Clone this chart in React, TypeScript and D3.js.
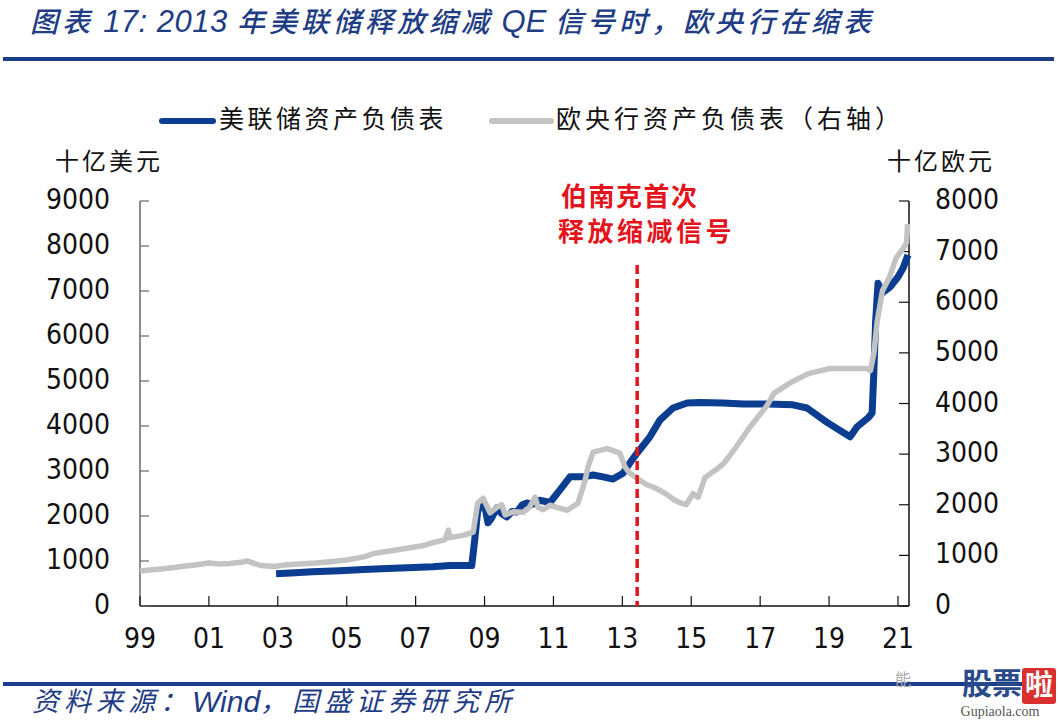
import React from "react";
import * as d3 from "d3";

const fedYear = [2002.95, 2003.5, 2004.0, 2004.8, 2005.5, 2006.0, 2006.75, 2007.5, 2008.0, 2008.63, 2008.72, 2008.8, 2008.9, 2009.0, 2009.1, 2009.2, 2009.36, 2009.5, 2009.65, 2009.8, 2009.94, 2010.1, 2010.23, 2010.4, 2010.6, 2010.9, 2011.19, 2011.48, 2011.86, 2012.15, 2012.44, 2012.73, 2013.02, 2013.22, 2013.43, 2013.8, 2014.09, 2014.47, 2014.88, 2015.26, 2015.92, 2016.5, 2017.2, 2017.95, 2018.36, 2018.94, 2019.61, 2019.81, 2020.13, 2020.2, 2020.25, 2020.3, 2020.35, 2020.42, 2020.55, 2020.77, 2021.0, 2021.15, 2021.29];
const fedValue = [715, 740, 760, 785, 810, 830, 850, 870, 900, 900, 1500, 2100, 2290, 2250, 1850, 1950, 2180, 2050, 1980, 2100, 2090, 2250, 2290, 2260, 2350, 2300, 2580, 2870, 2870, 2910, 2870, 2820, 2950, 3180, 3400, 3760, 4130, 4400, 4510, 4520, 4510, 4490, 4490, 4470, 4400, 4080, 3760, 3980, 4180, 4240, 4290, 5200, 6300, 7170, 6960, 7090, 7310, 7510, 7800];

const ecbYear = [1999.0, 1999.3, 1999.6, 2000.0, 2000.3, 2000.6, 2001.0, 2001.3, 2001.6, 2002.0, 2002.1, 2002.5, 2002.9, 2003.2, 2003.6, 2004.1, 2004.6, 2005.0, 2005.5, 2005.8, 2006.3, 2006.75, 2007.2, 2007.5, 2007.85, 2007.95, 2008.0, 2008.4, 2008.67, 2008.8, 2008.96, 2009.16, 2009.36, 2009.5, 2009.6, 2009.83, 2010.12, 2010.3, 2010.47, 2010.55, 2010.7, 2010.9, 2011.1, 2011.4, 2011.71, 2011.92, 2012.0, 2012.15, 2012.56, 2012.93, 2013.08, 2013.22, 2013.51, 2013.7, 2013.89, 2014.1, 2014.3, 2014.5, 2014.67, 2014.85, 2015.05, 2015.2, 2015.4, 2015.7, 2015.95, 2016.3, 2016.7, 2017.2, 2017.4, 2017.9, 2018.4, 2019.0, 2019.5, 2020.1, 2020.2, 2020.3, 2020.4, 2020.55, 2020.75, 2020.95, 2021.15, 2021.25, 2021.28];
const ecbValue = [690, 710, 730, 760, 790, 810, 850, 830, 840, 870, 890, 800, 780, 810, 830, 850, 880, 910, 970, 1040, 1090, 1140, 1190, 1250, 1310, 1500, 1350, 1400, 1460, 2030, 2130, 1840, 1950, 2000, 1800, 1860, 1850, 1950, 2150, 1950, 1900, 1990, 1950, 1890, 2030, 2480, 2740, 3040, 3110, 3020, 2740, 2620, 2480, 2400, 2350, 2280, 2200, 2100, 2040, 2000, 2220, 2150, 2540, 2680, 2820, 3140, 3530, 3960, 4200, 4420, 4590, 4690, 4690, 4690, 4650, 4990, 5640, 6230, 6490, 6880, 7060, 7180, 7550];

const xTickYears = [1999, 2001, 2003, 2005, 2007, 2009, 2011, 2013, 2015, 2017, 2019, 2021];
const xTickLabels = ["99", "01", "03", "05", "07", "09", "11", "13", "15", "17", "19", "21"];
const leftTicks = [0, 1000, 2000, 3000, 4000, 5000, 6000, 7000, 8000, 9000];
const rightTicks = [0, 1000, 2000, 3000, 4000, 5000, 6000, 7000, 8000];
const signalYear = 2013.43;

const BLUE = "#0b3d91";
const GRAY = "#c3c3c3";
const TITLE_BLUE = "#1f3d85";
const RED = "#e3141b";
const NUM_FONT = "'DejaVu Sans Condensed', 'Liberation Sans', sans-serif";
const CJK_FONT = "'Noto Sans CJK SC', sans-serif";

export default function App() {
  const left = 140, right = 909, top = 201, bottom = 606;
  const x = d3.scaleLinear().domain([1999, 2021.32]).range([left, right]);
  const yL = d3.scaleLinear().domain([0, 9000]).range([bottom, top]);
  const yR = d3.scaleLinear().domain([0, 8000]).range([bottom, top]);

  const fedLine = d3.line<number>().x((_, i) => x(fedYear[i])).y((v) => yL(v));
  const ecbLine = d3.line<number>().x((_, i) => x(ecbYear[i])).y((v) => yR(v));

  return (
    <svg width={1058} height={725} style={{ position: "absolute", left: 0, top: 0, background: "#fff" }}>
      <rect x={0} y={0} width={1058} height={725} fill="#fff" />
      {/* Title */}
      <text x={30} y={24} fontFamily={CJK_FONT} fontSize={28} fontWeight={500} fontStyle="italic" fill={TITLE_BLUE} dominantBaseline="middle">
        <tspan letterSpacing={4}>图表</tspan>
        <tspan fontFamily="'Liberation Sans', sans-serif" fontSize={31} letterSpacing={0.5}> 17:  2013 </tspan>
        <tspan letterSpacing={4}>年美联储释放缩减</tspan>
        <tspan fontFamily="'Liberation Sans', sans-serif" fontSize={31}> QE </tspan>
        <tspan letterSpacing={4}>信号时，欧央行在缩表</tspan>
      </text>
      <rect x={3} y={57} width={1051} height={4} fill="#1a3f8a" />

      {/* Legend */}
      <line x1={162} x2={213} y1={121} y2={121} stroke={BLUE} strokeWidth={6} strokeLinecap="round" />
      <text x={219} y={121} fontFamily={CJK_FONT} fontSize={25} letterSpacing={3.5} dominantBaseline="middle" fill="#111">美联储资产负债表</text>
      <line x1={492} x2={551} y1={121} y2={121} stroke={GRAY} strokeWidth={6} strokeLinecap="round" />
      <text x={556} y={121} fontFamily={CJK_FONT} fontSize={25} letterSpacing={4} dominantBaseline="middle" fill="#111">欧央行资产负债表（右轴）</text>

      {/* Units */}
      <text x={55} y={163} fontFamily={CJK_FONT} fontSize={24} letterSpacing={3} dominantBaseline="middle" fill="#111">十亿美元</text>
      <text x={887} y={163} fontFamily={CJK_FONT} fontSize={24} letterSpacing={3} dominantBaseline="middle" fill="#111">十亿欧元</text>

      {/* Axes */}
      <line x1={left} x2={left} y1={top} y2={bottom} stroke="#666" strokeWidth={1.5} />
      <line x1={right} x2={right} y1={top} y2={bottom} stroke="#111" strokeWidth={1.5} />
      <line x1={left} x2={right} y1={bottom} y2={bottom} stroke="#111" strokeWidth={1.5} />
      {leftTicks.map((t) => (
        <g key={"l" + t}>
          <line x1={left} x2={left + 9} y1={yL(t)} y2={yL(t)} stroke="#666" strokeWidth={1.2} />
          <text x={110} y={yL(t)} textAnchor="end" dominantBaseline="middle" fontFamily={NUM_FONT} fontSize={28} fill="#111">{t}</text>
        </g>
      ))}
      {rightTicks.map((t) => (
        <g key={"r" + t}>
          <line x1={right - 10} x2={right} y1={yR(t)} y2={yR(t)} stroke="#111" strokeWidth={1.2} />
          <text x={935} y={yR(t)} textAnchor="start" dominantBaseline="middle" fontFamily={NUM_FONT} fontSize={28} fill="#111">{t}</text>
        </g>
      ))}
      {xTickYears.map((yr, i) => (
        <g key={"x" + yr}>
          <line x1={x(yr)} x2={x(yr)} y1={bottom} y2={bottom - 10} stroke="#111" strokeWidth={1.2} />
          <text x={x(yr)} y={640} textAnchor="middle" dominantBaseline="middle" fontFamily={NUM_FONT} fontSize={28} fill="#111">{xTickLabels[i]}</text>
        </g>
      ))}

      {/* Series */}
      <path d={fedLine(fedValue) || ""} fill="none" stroke={BLUE} strokeWidth={7} strokeLinejoin="round" />
      <path d={ecbLine(ecbValue) || ""} fill="none" stroke={GRAY} strokeWidth={5.5} strokeLinejoin="round" />

      {/* Annotation */}
      <line x1={x(signalYear)} x2={x(signalYear)} y1={265} y2={bottom} stroke={RED} strokeWidth={3.5} strokeDasharray="9 5" />
      <text x={561} y={199} fontFamily={CJK_FONT} fontSize={26} fontWeight="bold" letterSpacing={1.5} dominantBaseline="middle" fill={RED}>伯南克首次</text>
      <text x={558} y={234} fontFamily={CJK_FONT} fontSize={26} fontWeight="bold" letterSpacing={3.5} dominantBaseline="middle" fill={RED}>释放缩减信号</text>

      {/* Footer */}
      <rect x={3} y={682} width={1051} height={4} fill="#1a3f8a" />
      <text x={32} y={704} fontFamily={CJK_FONT} fontSize={27} fontStyle="italic" fill={TITLE_BLUE} dominantBaseline="middle">
        <tspan letterSpacing={5}>资料来源：</tspan>
        <tspan fontFamily="'Liberation Sans', sans-serif" fontSize={30}>Wind</tspan>
        <tspan letterSpacing={5}>，国盛证券研究所</tspan>
      </text>

      {/* Watermark */}
      <text x={895} y={681} fontFamily={CJK_FONT} fontSize={16} fill="#aaa" dominantBaseline="middle">能</text>
      <text x={962} y={686} fontFamily={CJK_FONT} fontSize={30} fontWeight="bold" fill="#2a4a8c" dominantBaseline="middle">股票</text>
      <rect x={1022} y={668} width={34} height={36} rx={3} fill="#d9302f" />
      <text x={1039} y={687} fontFamily={CJK_FONT} fontSize={28} fontWeight="bold" fill="#fff" textAnchor="middle" dominantBaseline="middle">啦</text>
      <text x={1000} y={713} fontFamily="'Liberation Serif', serif" fontSize={14} fill="#555" textAnchor="middle" dominantBaseline="middle">Gupiaola.com</text>
    </svg>
  );
}
